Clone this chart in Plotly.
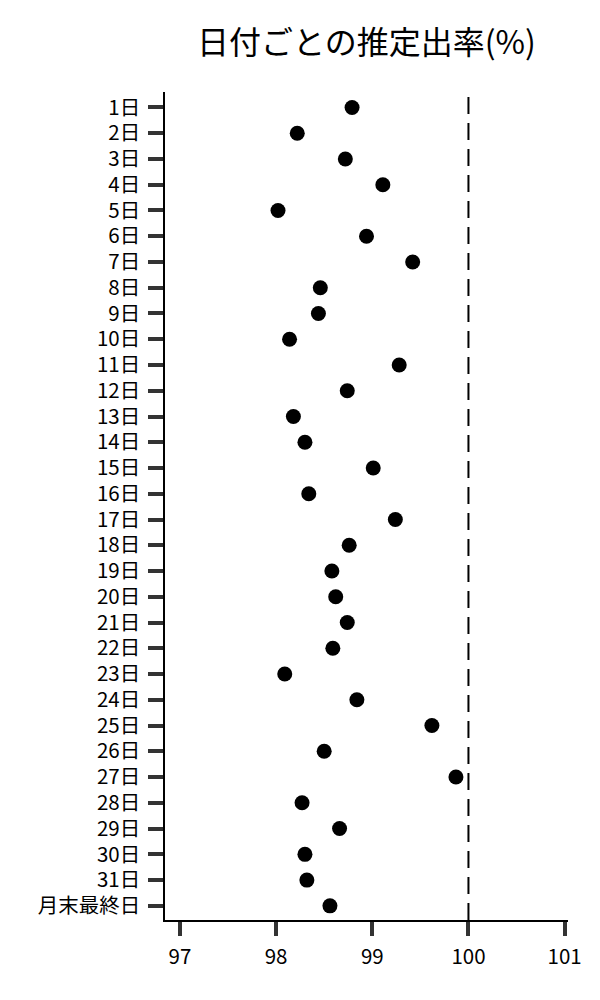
import plotly.graph_objects as go

days = [f"{i}日" for i in range(1, 32)] + ["月末最終日"]
rates = [98.79, 98.22, 98.72, 99.11, 98.02, 98.94, 99.42, 98.46, 98.44, 98.14,
         99.28, 98.74, 98.18, 98.30, 99.01, 98.34, 99.24, 98.76, 98.58, 98.62,
         98.74, 98.59, 98.09, 98.84, 99.62, 98.50, 99.87, 98.27, 98.66, 98.30,
         98.32, 98.56]
target = 100
x_ticks = [97, 98, 99, 100, 101]

font = "Noto Sans CJK JP"
pos = list(range(len(days)))

fig = go.Figure()
fig.add_trace(go.Scatter(
    x=rates, y=pos, mode="markers",
    marker=dict(color="black", size=15),
    showlegend=False,
))

fig.add_vline(x=target, line=dict(color="black", width=2, dash="17px,9px"))

# page body adds 8px offset, so margins are shifted accordingly
fig.update_layout(
    width=600, height=1000,
    plot_bgcolor="white", paper_bgcolor="white",
    margin=dict(l=157, r=40, t=84, b=88),
    font=dict(family=font, size=20.5, color="black"),
    title=dict(text="日付ごとの推定出率(%)", xref="paper", x=0.5, xanchor="center",
               y=0.965, yanchor="middle", font=dict(size=32, family=font)),
)
fig.update_xaxes(
    range=[96.845, 101.035], tickvals=x_ticks, showgrid=False, zeroline=False,
    showline=True, linecolor="black", linewidth=1.5,
    ticks="outside", ticklen=14, tickwidth=4, tickcolor="#333",
    ticklabelstandoff=4,
)
fig.update_yaxes(
    range=[len(days) - 0.45, -0.6], tickvals=pos, ticktext=days,
    showgrid=False, zeroline=False,
    showline=True, linecolor="black", linewidth=1.5,
    ticks="outside", ticklen=15, tickwidth=4, tickcolor="#333",
    ticklabelstandoff=4,
)

fig.write_html("out.html")
